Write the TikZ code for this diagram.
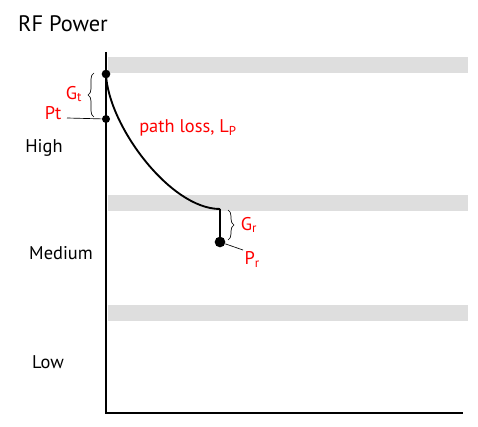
\documentclass[tikz,border=0pt]{standalone}
\usepackage{fontspec}
\setmainfont{PT Sans}
\usetikzlibrary{decorations.pathreplacing}
\begin{document}
\begin{tikzpicture}
  [x=0.75pt,y=-0.75pt,
   every node/.style={font=\fontsize{13.8}{16}\selectfont},
   lbl/.style={text=red},
   dot/.style={circle,fill=black,inner sep=0pt,minimum size=6.5pt},
   band/.style={fill=black!13,draw=none},
   axis/.style={line width=1.5pt},
   lead/.style={line width=0.5pt},
   brc/.style={decorate,decoration={brace,amplitude=4.5pt},line width=0.5pt}]
\useasboundingbox (0,0) rectangle (478,427);

% shaded level bands
\path[band] (108,57) rectangle (468,73);
\path[band] (108,195) rectangle (468,211);
\path[band] (108,305) rectangle (468,321);

% axes
\coordinate (top) at (106,52);
\coordinate (org) at (106,413);
\coordinate (xend) at (463,413);
\draw[axis] (top) -- (org) -- (xend);

\node (title) at (63,24) {\fontsize{16.8}{19}\selectfont RF Power};
\node (high) at (44,148) {High};
\node (med) at (61,253) {Medium};
\node (low) at (48,362) {Low};

\node (tx)[dot] at (106,74) {};
\node (ptdot)[dot,minimum size=6pt] at (106,119) {};
\node (knee) at (220,209) [inner sep=0pt] {};
\node (rx)[dot,minimum size=8pt] at (220,242) {};

% path loss curve
\draw[line width=1.4pt] (tx.center) .. controls (108,125) and (170,209) .. (knee.center);
\draw[line width=1.4pt] (knee.center) -- (rx.center);

\node (pl)[lbl] at (188,128) {path loss, L\textsubscript{P}};

% gains
\draw[brc] (94,117) -- (94,73);
\node (gt)[lbl] at (74,94) {G\textsubscript{t}};
\draw[brc] (228,210) -- (228,240);
\node (gr)[lbl] at (249,225) {G\textsubscript{r}};

% power labels
\node (pt)[lbl,anchor=east,inner sep=1pt] at (63,113) {Pt};
\draw[lead] ([xshift=3pt]pt.east |- 0,118) -- (ptdot);
\node (pr)[lbl,anchor=north west,inner sep=1pt] at (243,250) {P\textsubscript{r}};
\draw[lead] (rx) -- (pr.north west);
\end{tikzpicture}
\end{document}
